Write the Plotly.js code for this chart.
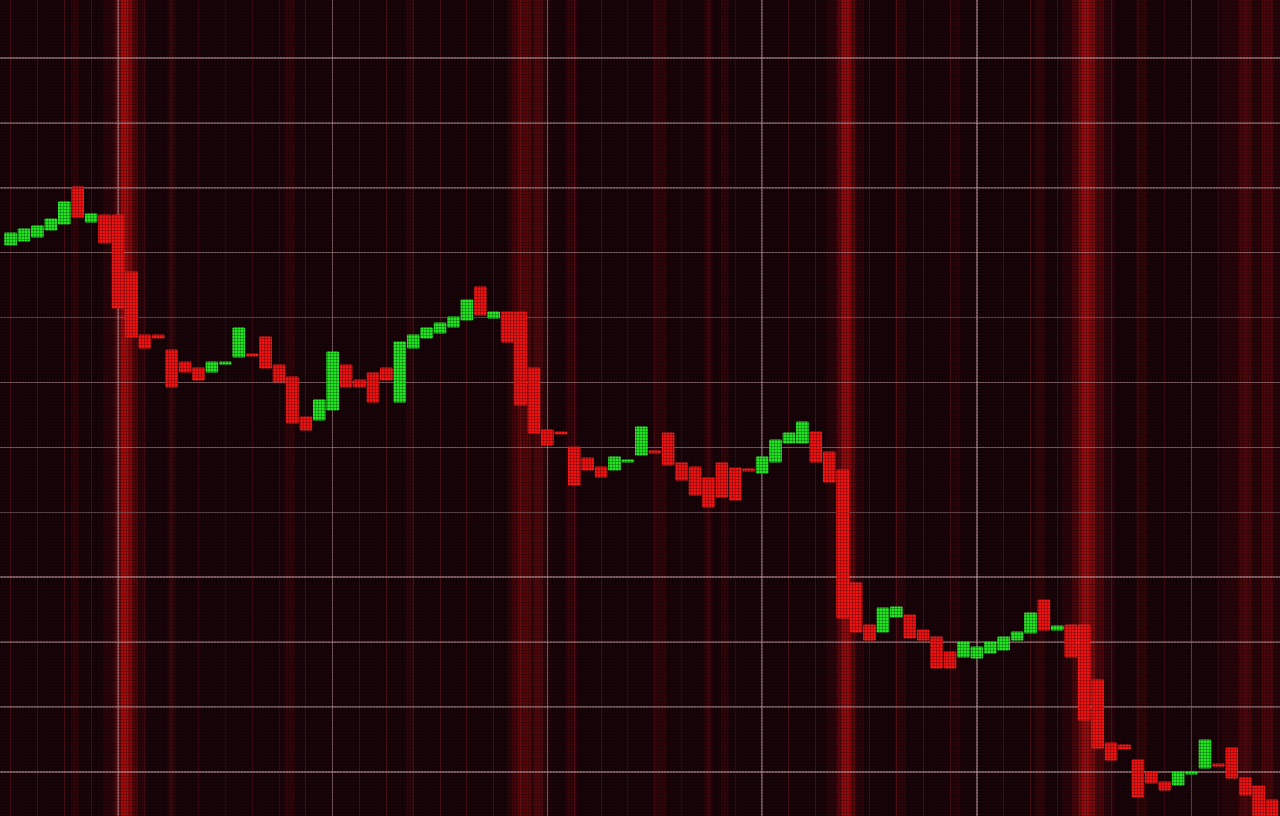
<!DOCTYPE html>
<html>
<head>
<meta charset="utf-8">
<script src="https://cdn.plot.ly/plotly-3.0.1.min.js"></script>
<style>
  html, body { margin: 0; padding: 0; background: #19040a; overflow: hidden; }
  #wrap { position: relative; width: 1280px; height: 816px; }
  #chart { width: 1280px; height: 816px; }
  #led {
    position: absolute; left: 0; top: 0; width: 1280px; height: 816px; pointer-events: none;
    background-image:
      repeating-linear-gradient(90deg, rgba(0,0,0,0.25) 0px, rgba(0,0,0,0.25) 1px, rgba(0,0,0,0) 1px, rgba(0,0,0,0) 3px),
      repeating-linear-gradient(0deg, rgba(0,0,0,0.25) 0px, rgba(0,0,0,0.25) 1px, rgba(0,0,0,0) 1px, rgba(0,0,0,0) 3px);
  }
</style>
</head>
<body>
<div id="wrap">
  <div id="chart"></div>
  <div id="led"></div>
</div>
<script>
// Session number of each candle
const session = [
  0,1,2,3,4,5,6,7,8,9,10,11,12,13,14,15,16,17,18,19,
  20,21,22,23,24,25,26,27,28,29,30,31,32,33,34,35,36,37,38,39,
  40,41,42,43,44,45,46,47,48,49,50,51,52,53,54,55,56,57,58,59,
  60,61,62,63,64,65,66,67,68,69,70,71,72,73,74,75,76,77,78,79,
  80,81,82,83,84,85,86,87,88,89,90,91,92,93,94
];
// Open prices
const openPrice = [
  91.19,91.81,92.42,93.50,94.43,100.13,94.73,95.81,95.81,87.03,
  77.32,77.32,75.01,73.16,72.24,71.62,72.85,73.93,74.40,77.02,
  72.70,70.85,64.69,64.23,65.77,72.70,70.39,71.47,72.24,67.00,
  75.32,76.86,77.63,78.56,79.63,84.72,79.94,80.87,80.87,72.24,
  62.69,62.38,60.07,58.37,56.98,56.52,57.76,58.83,59.45,62.22,
  57.60,56.98,55.29,57.60,56.83,56.68,56.06,57.76,60.68,60.68,
  62.38,59.30,56.52,39.11,32.64,31.56,33.87,34.18,31.87,30.79,
  28.48,27.71,27.56,28.33,28.79,30.33,31.41,36.49,31.87,32.64,
  32.64,24.17,14.46,14.15,11.84,9.99,8.45,7.99,9.68,10.61,
  11.22,13.69,9.07,7.83,5.68
];
// Close prices
const closePrice = [
  93.04,93.66,94.12,95.20,97.82,95.50,95.97,91.50,81.48,77.02,
  75.32,76.86,69.31,71.62,70.39,73.16,73.16,78.40,74.09,72.24,
  70.08,63.76,62.69,67.31,74.70,69.31,69.31,67.00,70.39,76.24,
  77.32,78.40,79.17,80.10,82.72,80.40,80.87,76.24,66.54,62.22,
  60.37,62.07,54.21,56.52,55.44,58.53,58.06,63.15,59.14,57.29,
  54.98,52.67,50.82,52.36,51.90,56.37,58.53,61.14,62.22,63.92,
  57.76,54.67,33.72,31.56,30.33,35.26,35.41,30.64,30.33,26.01,
  26.01,30.02,29.25,30.02,30.79,31.56,34.49,31.87,32.49,27.71,
  18.00,13.69,11.84,13.53,6.14,8.30,7.22,9.99,9.99,14.92,
  10.91,9.07,6.45,1.05,-0.49
];
// No visible wicks: high/low equal the body extremes
const highPrice = openPrice.map((o, i) => Math.max(o, closePrice[i]));
const lowPrice = openPrice.map((o, i) => Math.min(o, closePrice[i]));

// Decorative red glow bands behind the grid: [centre session, half width, opacity]
const glow = [
  [8.5, 1.6, 0.08], [8.6, 0.9, 0.16], [8.6, 0.5, 0.30], [8.5, 0.25, 0.30],
  [38.6, 1.6, 0.08], [38.3, 0.5, 0.20], [39.3, 0.35, 0.18], [37.6, 0.25, 0.12],
  [62.2, 1.4, 0.08], [62.25, 0.7, 0.22], [62.25, 0.35, 0.35],
  [80.3, 2.0, 0.08], [80.3, 1.2, 0.16], [80.2, 0.6, 0.28], [80.1, 0.25, 0.25],
  [92.6, 2.4, 0.07], [92.0, 0.5, 0.16], [93.6, 0.4, 0.16],
  [4.8, 0.3, 0.10], [12.0, 0.3, 0.10], [20.8, 0.4, 0.10],
  [29.8, 0.3, 0.09], [41.8, 0.4, 0.12], [48.4, 0.5, 0.10],
  [52.0, 0.3, 0.10], [53.2, 0.3, 0.10], [66.3, 0.4, 0.08],
  [76.7, 0.4, 0.10], [84.3, 0.4, 0.10], [70.5, 0.3, 0.07]
];
const shapes = glow.map(g => ({
  type: 'rect', xref: 'x', yref: 'paper', layer: 'below',
  x0: g[0] - g[1], x1: g[0] + g[1], y0: 0, y1: 1,
  fillcolor: 'rgba(255,20,20,' + g[2] + ')', line: {width: 0}
}));

const trace = {
  type: 'candlestick',
  x: session, open: openPrice, high: highPrice, low: lowPrice, close: closePrice,
  whiskerwidth: 0,
  increasing: {line: {color: '#2cf02c', width: 1}, fillcolor: '#22e422'},
  decreasing: {line: {color: '#ff1c1c', width: 1}, fillcolor: '#f01212'},
  hoverinfo: 'skip'
};

const gridCol = 'rgba(215,175,180,0.5)';
const layout = {
  width: 1280, height: 816,
  margin: {l: 0, r: 0, t: 0, b: 0, pad: 0},
  paper_bgcolor: '#19040a', plot_bgcolor: '#19040a',
  showlegend: false,
  boxgap: 0.14, boxgroupgap: 0,
  xaxis: {
    range: [-0.79, 94.59], showticklabels: false, zeroline: false, showline: false,
    ticks: '', tick0: 8, dtick: 16, showgrid: true, gridcolor: gridCol, gridwidth: 1.5,
    minor: {tick0: 0, dtick: 2, showgrid: true, gridcolor: 'rgba(130,25,35,0.45)', gridwidth: 1, ticks: ''},
    rangeslider: {visible: false}, fixedrange: true
  },
  yaxis: {
    range: [3.21, 128.94], showticklabels: false, zeroline: false, showline: false,
    ticks: '', tick0: 0, dtick: 10, showgrid: true, gridcolor: gridCol, gridwidth: 1.5,
    fixedrange: true
  },
  shapes: shapes
};

Plotly.newPlot('chart', [trace], layout, {displayModeBar: false, staticPlot: true});
</script>
</body>
</html>
